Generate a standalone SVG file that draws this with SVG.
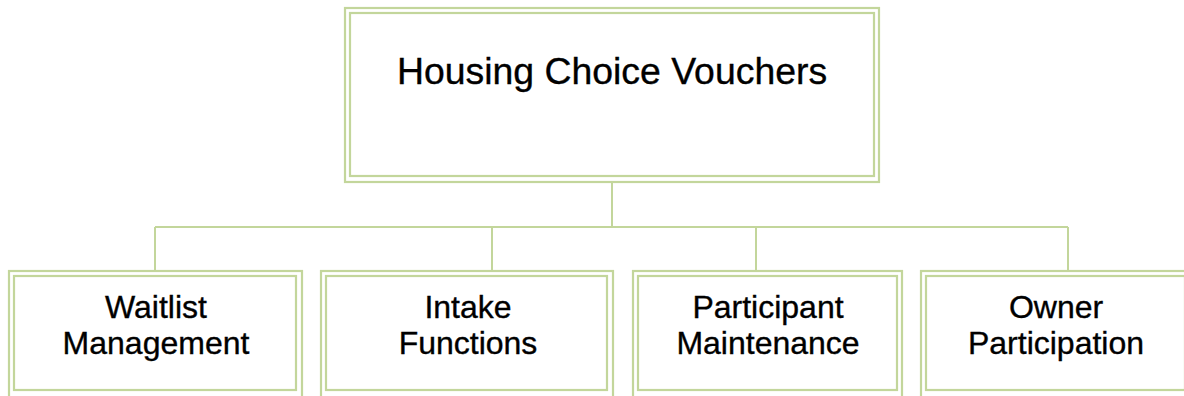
<svg xmlns="http://www.w3.org/2000/svg" width="1184" height="396" viewBox="0 0 1184 396">
<style>
.b{fill:none;stroke:#c3d69b;stroke-width:2.2}
.c{fill:none;stroke:#c3d69b;stroke-width:2}
.t{font-family:"Liberation Sans",Arial,sans-serif;fill:#000;stroke:#000;stroke-width:0.35;text-anchor:middle}
.top{font-size:37.4px}
.sub{font-size:32px}
</style>
<rect width="1184" height="396" fill="#fff"/>
<g id="connectors">
<path class="c" d="M612 182V227M155 227H1068M155 227V271M492 227V271M756 227V271M1068 227V271"/>
</g>
<g id="hcv">
<rect class="b" x="345" y="8" width="534" height="174"/>
<rect class="b" x="350" y="13" width="524" height="163"/>
<text class="t top" x="612" y="84">Housing Choice Vouchers</text>
</g>
<g id="waitlist">
<rect class="b" x="9" y="271" width="293" height="130"/>
<rect class="b" x="14" y="276" width="282" height="114"/>
<text class="t sub" x="156" y="318">Waitlist</text>
<text class="t sub" x="156" y="354">Management</text>
</g>
<g id="intake">
<rect class="b" x="321" y="271" width="292" height="130"/>
<rect class="b" x="326" y="276" width="281" height="114"/>
<text class="t sub" x="468" y="318">Intake</text>
<text class="t sub" x="468" y="354">Functions</text>
</g>
<g id="participant">
<rect class="b" x="633" y="271" width="269" height="130"/>
<rect class="b" x="638" y="276" width="259" height="114"/>
<text class="t sub" x="768" y="318">Participant</text>
<text class="t sub" x="768" y="354">Maintenance</text>
</g>
<g id="owner">
<rect class="b" x="921" y="271" width="269" height="130"/>
<rect class="b" x="926" y="276" width="259" height="114"/>
<text class="t sub" x="1056" y="318">Owner</text>
<text class="t sub" x="1056" y="354">Participation</text>
</g>
</svg>
